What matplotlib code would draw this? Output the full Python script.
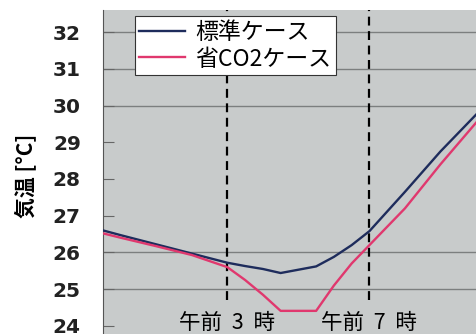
import numpy as np
import matplotlib
matplotlib.use("Agg")
import matplotlib.pyplot as plt

# ======================
# Data (hours after midnight, air temperature)
# ======================
hours = [-0.5, 0, 1, 2, 3, 3.5, 4, 4.5, 5.5, 6, 6.5, 7, 8, 9, 10]
temp_std = [26.6, 26.47, 26.22, 25.97, 25.72, 25.63, 25.55, 25.44, 25.62,
            25.88, 26.2, 26.58, 27.65, 28.75, 29.75]
temp_co2 = [26.52, 26.4, 26.17, 25.93, 25.6, 25.25, 24.85, 24.41, 24.41,
            25.1, 25.7, 26.2, 27.2, 28.4, 29.53]
series_names = ["標準ケース", "省CO2ケース"]

mark_hours = [3, 7]
mark_labels = ["午前 3 時", "午前 7 時"]

y_ticks = [24, 25, 26, 27, 28, 29, 30, 31, 32]
grid_levels = [25, 26, 30, 31, 32]

JP = ["Noto Sans CJK JP", "DejaVu Sans"]
plt.rcParams["font.family"] = ["Liberation Sans", "Noto Sans CJK JP", "DejaVu Sans"]

# ======================
# Plot
# ======================
W, H = 476, 334
fig = plt.figure(figsize=(W / 100, H / 100), dpi=100)
ax = fig.add_axes([103 / W, 0, 1 - 103 / W, (H - 10) / H])
ax.set_facecolor("#c8cbcb")

ax.set_xlim(-0.5, 10)
ax.set_ylim(23.78, 32.6)

for g in grid_levels:
    ax.axhline(g, color="#7c7f7f", lw=1.0, zorder=1)

ax.vlines(mark_hours, 24.7, 32.6, colors="black", linestyles=(0, (4, 2.5)),
          lw=1.6, zorder=2)

ax.plot(hours, temp_std, color="#1e2c5c", lw=1.7, label=series_names[0], zorder=3)
ax.plot(hours, temp_co2, color="#e0386e", lw=1.7, label=series_names[1], zorder=3)

for h, lab in zip(mark_hours, mark_labels):
    ax.text(h, 24.08, lab.replace(" ", "  "), ha="center", va="center",
            fontsize=15.5, family=JP)

ax.set_yticks(y_ticks)
ax.set_yticklabels([str(t) for t in y_ticks], fontsize=14.5, fontweight="bold",
                   color="#222222", family="DejaVu Sans")
ax.tick_params(axis="y", direction="in", length=8, width=0.8, pad=16,
               color="#666666")
ax.set_xticks([])

for s in ["top", "right", "bottom"]:
    ax.spines[s].set_visible(False)
ax.spines["left"].set_color("#555555")
ax.spines["left"].set_linewidth(0.8)

fig.text(0.052, 0.473, "気温 [°C]", rotation=90, ha="center", va="center",
         fontsize=15, fontweight="bold", family=JP)

leg = ax.legend(loc="upper left", bbox_to_anchor=(0.085, 0.98),
                prop={"family": JP, "size": 16.5},
                frameon=True, fancybox=False, handlelength=2.0, handletextpad=0.45,
                borderpad=0.2, labelspacing=0.15, borderaxespad=0)
leg.get_frame().set_edgecolor("#333333")
leg.get_frame().set_linewidth(0.8)
leg.get_frame().set_alpha(1)
leg.set_zorder(5)

fig.savefig("out.png", dpi=100)
